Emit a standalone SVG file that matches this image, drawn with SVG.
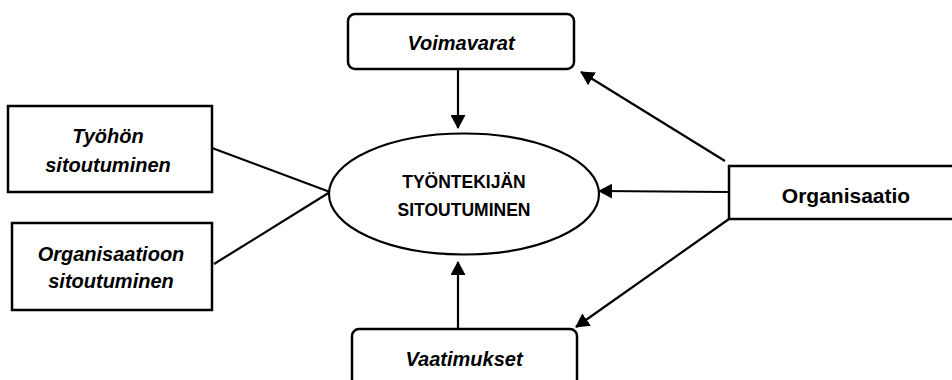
<svg xmlns="http://www.w3.org/2000/svg" width="952" height="380" viewBox="0 0 952 380">
<defs>
<style>
.box{fill:#fff;stroke:#000;stroke-width:2.5}
.lbl{font-family:"Liberation Sans",Arial,sans-serif;font-weight:bold;fill:#000;text-anchor:middle}
.it{font-style:italic;font-size:20px}
.con{stroke:#000;stroke-width:2.2;fill:none}
</style>
<marker id="ah" markerWidth="14" markerHeight="15" refX="13" refY="7.5" orient="auto" markerUnits="userSpaceOnUse">
<path d="M0,0 L14,7.5 L0,15 Z" fill="#000"/>
</marker>
</defs>
<rect width="952" height="380" fill="#fff"/>
<g id="connectors">
<line class="con" x1="458" y1="69" x2="458" y2="128" marker-end="url(#ah)"/>
<line class="con" x1="458" y1="329" x2="458" y2="262" marker-end="url(#ah)"/>
<line class="con" x1="212" y1="148" x2="330" y2="192"/>
<line class="con" x1="214" y1="264" x2="330" y2="192"/>
<line class="con" x1="728" y1="192" x2="599" y2="191" marker-end="url(#ah)"/>
<line class="con" x1="725" y1="161" x2="581" y2="72" marker-end="url(#ah)"/>
<line class="con" x1="729" y1="219" x2="576" y2="327" marker-end="url(#ah)"/>
</g>
<g id="voimavarat">
<rect class="box" x="348" y="14" width="226" height="55" rx="7"/>
<text class="lbl it" x="461" y="50">Voimavarat</text>
</g>
<g id="vaatimukset">
<rect class="box" x="352" y="329" width="225" height="60" rx="7"/>
<text class="lbl it" x="464" y="366">Vaatimukset</text>
</g>
<g id="tyohon">
<rect class="box" x="8" y="106" width="204" height="86"/>
<text class="lbl it" x="108" y="143">Työhön</text>
<text class="lbl it" x="108" y="172">sitoutuminen</text>
</g>
<g id="organisaatioon">
<rect class="box" x="12" y="223" width="200" height="87"/>
<text class="lbl it" x="111" y="261">Organisaatioon</text>
<text class="lbl it" x="111" y="288">sitoutuminen</text>
</g>
<g id="tyontekijan">
<ellipse class="box" cx="464" cy="194" rx="135" ry="60.5" style="stroke-width:2.2"/>
<text class="lbl" x="464" y="188" font-size="17.5">TYÖNTEKIJÄN</text>
<text class="lbl" x="464" y="216" font-size="17.5">SITOUTUMINEN</text>
</g>
<g id="organisaatio">
<rect class="box" x="729" y="166" width="225" height="53"/>
<text class="lbl" x="846" y="203" font-size="21">Organisaatio</text>
</g>
</svg>
